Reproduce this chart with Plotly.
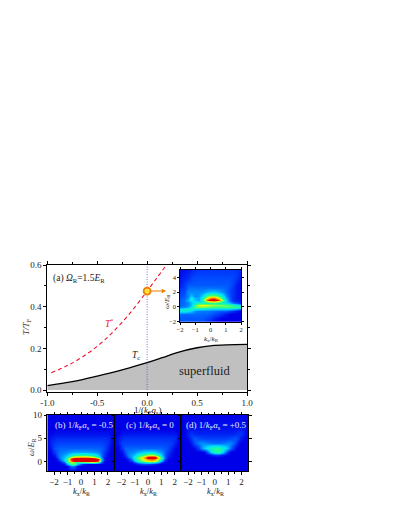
import plotly.graph_objects as go

W, H = 399, 516
OX, OY = -8, -8

tc_x = [-1.0,-0.75,-0.5,-0.25,0.0,0.15,0.3,0.5,0.65,0.8,1.0]
tc_y = [0.021,0.04,0.067,0.097,0.131,0.155,0.18,0.203,0.213,0.217,0.219]
ts_x = [-0.96,-0.81,-0.66,-0.5,-0.36,-0.17,0.0,0.1,0.193]
ts_y = [0.083,0.115,0.155,0.21,0.27,0.37,0.475,0.54,0.6]

inset_k = [-2,-1.75,-1.5,-1.25,-1,-.75,-.5,-.25,0,.25,.5,.75,1,1.25,1.5,1.75,2]
inset_w = [-2,-1.5,-1,-.5,-.25,0,.25,.5,.75,1,1.25,1.5,2,2.5,3,4,5]
inset_z = [
 [.13,.13,.13,.13,.13,.12,.12,.08,.04,.02,0,0,0,0,0,0,0],
 [.14,.14,.14,.14,.14,.14,.14,.12,.10,.06,.03,0,0,0,0,0,0],
 [.16,.16,.16,.16,.16,.16,.15,.15,.14,.12,.10,.07,.03,0,0,0,0],
 [.34,.34,.32,.28,.20,.18,.18,.18,.17,.16,.15,.14,.14,.10,.07,.03,0],
 [.34,.36,.38,.38,.34,.32,.32,.30,.28,.28,.28,.28,.28,.28,.26,.22,.14],
 [.18,.20,.24,.32,.50,.52,.52,.50,.48,.47,.47,.47,.47,.47,.47,.45,.42],
 [.15,.17,.20,.26,.46,.60,.62,.60,.56,.54,.53,.52,.50,.47,.43,.36,.26],
 [.15,.16,.20,.26,.36,.42,.42,.40,.42,.44,.40,.38,.33,.26,.18,.14,.08],
 [.15,.17,.23,.30,.30,.28,.38,.58,.70,.72,.62,.46,.28,.16,.10,.06,.03],
 [.14,.17,.25,.36,.26,.24,.46,.82,1,1,.88,.58,.30,.14,.08,.05,.02],
 [.13,.15,.21,.36,.24,.24,.40,.64,.78,.80,.64,.44,.24,.13,.07,.04,.02],
 [.12,.14,.19,.27,.20,.22,.32,.48,.56,.56,.48,.36,.20,.12,.07,.04,.02],
 [.10,.12,.20,.20,.20,.20,.21,.25,.28,.28,.25,.21,.16,.11,.08,.04,.02],
 [.08,.10,.16,.17,.17,.17,.17,.17,.17,.17,.17,.16,.15,.12,.08,.04,.02],
 [.05,.09,.14,.14,.14,.14,.14,.14,.14,.14,.14,.14,.14,.13,.10,.04,.02],
 [.03,.05,.07,.10,.12,.12,.12,.12,.12,.12,.12,.12,.12,.12,.12,.09,.03],
 [.02,.03,.04,.06,.08,.09,.09,.09,.09,.09,.09,.09,.09,.09,.09,.09,.07],
]

band_k = [-2.5,-2.25,-2,-1.75,-1.5,-1.25,-1,-.75,-.5,-.25,0,.25,.5,.75,1,1.25,1.5,1.75,2,2.25,2.5]
band_w = [-2,-1,-.5,0,.25,.5,.75,1,1.5,2,3,4,5,6,7,10]
b_z = [
 [0,0,0,0,0,0,0,0,0,0,0,0,0,0,0,0,0,0,0,0,0],
 [0,0,0,0,0,0,.01,.18,.16,.02,0,0,0,0,0,0,0,0,0,0,0],
 [0,0,0,0,0,.03,.25,.48,.50,.28,.10,.03,.01,0,0,0,0,0,0,0,0],
 [0,0,0,0,.03,.16,.42,.58,.50,.44,.48,.52,.54,.58,.58,.48,.15,.01,0,0,0],
 [0,0,0,.02,.10,.26,.42,.80,.96,.98,.98,.98,.98,.98,.96,.80,.25,.02,0,0,0],
 [0,0,0,.04,.18,.30,.46,.92,1,1,1,1,1,1,1,.94,.28,.03,0,0,0],
 [0,0,0,.08,.20,.28,.42,.80,.96,.98,.98,.96,.94,.92,.88,.62,.22,.04,0,0,0],
 [0,0,0,.12,.20,.26,.36,.58,.66,.70,.72,.72,.70,.64,.56,.42,.18,.05,0,0,0],
 [0,0,.04,.14,.19,.23,.27,.36,.42,.44,.44,.44,.42,.40,.36,.28,.16,.07,.01,0,0],
 [0,0,.09,.15,.17,.18,.20,.22,.23,.23,.23,.23,.23,.22,.21,.19,.15,.09,.02,0,0],
 [0,.03,.13,.14,.15,.15,.15,.15,.15,.15,.15,.15,.15,.15,.15,.15,.14,.12,.05,0,0],
 [0,.06,.10,.11,.11,.11,.11,.11,.11,.11,.11,.11,.11,.11,.11,.11,.11,.10,.07,.01,0],
 [0,.04,.06,.07,.07,.07,.07,.07,.07,.07,.07,.07,.07,.07,.07,.07,.07,.07,.06,.03,0],
 [0,.01,.03,.03,.03,.03,.03,.03,.03,.03,.03,.03,.03,.03,.03,.03,.03,.03,.03,.01,0],
 [0,0,0,0,0,0,0,0,0,0,0,0,0,0,0,0,0,0,0,0,0],
 [0,0,0,0,0,0,0,0,0,0,0,0,0,0,0,0,0,0,0,0,0],
]
c_z = [
 [0,0,0,0,0,0,0,0,0,0,0,0,0,0,0,0,0,0,0,0,0],
 [0,0,0,0,0,0,0,0,0,0,0,0,0,0,0,0,0,0,0,0,0],
 [0,0,0,0,0,0,.02,.06,.10,.12,.10,.08,.05,.02,0,0,0,0,0,0,0],
 [0,0,0,0,0,.03,.14,.26,.34,.38,.42,.44,.40,.28,.10,.02,0,0,0,0,0],
 [0,0,0,0,.02,.10,.26,.40,.50,.56,.62,.66,.62,.46,.22,.06,0,0,0,0,0],
 [0,0,0,0,.05,.18,.34,.46,.58,.66,.76,.82,.76,.58,.34,.10,.02,0,0,0,0],
 [0,0,0,.01,.09,.22,.36,.50,.62,.74,.92,1,.96,.68,.40,.13,.03,0,0,0,0],
 [0,0,0,.03,.14,.24,.36,.48,.60,.72,.94,1,.98,.66,.36,.14,.05,.01,0,0,0],
 [0,0,0,.07,.18,.23,.28,.36,.44,.50,.56,.58,.54,.42,.27,.14,.07,.01,0,0,0],
 [0,0,.02,.12,.18,.19,.21,.24,.27,.29,.30,.30,.29,.25,.20,.15,.09,.03,0,0,0],
 [0,0,.08,.15,.15,.15,.15,.15,.15,.15,.15,.15,.15,.15,.15,.14,.12,.06,.01,0,0],
 [0,.03,.10,.11,.11,.11,.11,.11,.11,.11,.11,.11,.11,.11,.11,.11,.11,.10,.05,.01,0],
 [0,.03,.07,.08,.08,.08,.08,.08,.08,.08,.08,.08,.08,.08,.08,.08,.08,.08,.07,.03,0],
 [0,0,.03,.04,.04,.04,.04,.04,.04,.04,.04,.04,.04,.04,.04,.04,.04,.04,.04,.01,0],
 [0,0,0,0,0,0,0,0,0,0,0,0,0,0,0,0,0,0,0,0,0],
 [0,0,0,0,0,0,0,0,0,0,0,0,0,0,0,0,0,0,0,0,0],
]
d_z = [
 [0,0,0,0,0,0,0,0,0,0,0,0,0,0,0,0,0,0,0,0,0],
 [0,0,0,0,0,0,0,0,0,0,0,0,0,0,0,0,0,0,0,0,0],
 [0,0,0,0,0,0,0,0,0,0,0,0,0,0,0,0,0,0,0,0,0],
 [0,0,0,0,0,0,0,0,0,0,0,0,0,0,0,0,0,0,0,0,0],
 [0,0,0,0,0,0,0,0,0,0,0,0,0,0,0,0,0,0,0,0,0],
 [0,0,0,0,0,0,0,0,0,0,0,0,0,0,0,0,0,0,0,0,0],
 [0,0,0,0,0,0,0,0,0,0,0,0,0,0,0,0,0,0,0,0,0],
 [0,0,0,0,0,0,0,0,0,0,0,.01,0,0,0,0,0,0,0,0,0],
 [0,0,0,0,0,0,0,0,.01,.04,.08,.09,.06,.02,0,0,0,0,0,0,0],
 [0,0,0,0,0,0,0,.02,.18,.32,.42,.44,.35,.18,.05,0,0,0,0,0,0],
 [0,0,0,0,.02,.10,.20,.28,.35,.40,.44,.44,.38,.32,.24,.14,.03,0,0,0,0],
 [0,0,0,.04,.13,.18,.20,.20,.18,.17,.16,.16,.17,.18,.20,.18,.12,.03,0,0,0],
 [0,0,.03,.10,.14,.12,.11,.10,.10,.10,.10,.10,.10,.10,.11,.12,.14,.10,.03,0,0],
 [0,0,.06,.09,.07,.06,.06,.06,.06,.06,.06,.06,.06,.06,.06,.06,.07,.09,.08,.02,0],
 [0,0,.03,.03,.03,.03,.03,.03,.03,.03,.03,.03,.03,.03,.03,.03,.03,.04,.05,.02,0],
 [0,0,0,0,0,0,0,0,0,0,0,0,0,0,0,0,0,0,0,0,0],
]

scale = [[0,"#0000e8"],[0.12,"#0048ff"],[0.3,"#00e0ff"],[0.45,"#20ff90"],[0.62,"#f0ff00"],[0.8,"#ff6000"],[0.92,"#f00000"],[1,"#e00000"]]
FONT = "Liberation Serif"

def dx(a, b): return [(a + OX) / W, (b + OX) / W]
def dy(top, bot): return [1 - (bot + OY) / H, 1 - (top + OY) / H]

fig = go.Figure()
fig.add_trace(go.Scatter(x=tc_x, y=tc_y, mode="lines", fill="tozeroy", fillcolor="#c0c0c0",
                         line=dict(color="black", width=1.3, shape="spline"), xaxis="x", yaxis="y"))
fig.add_trace(go.Scatter(x=ts_x, y=ts_y, mode="lines",
                         line=dict(color="#f01030", width=1.1, dash="4px,3px", shape="spline"), xaxis="x", yaxis="y"))
fig.add_trace(go.Scatter(x=[0, 0], y=[0, 0.6], mode="lines",
                         line=dict(color="#3040d0", width=0.7, dash="1px,1.5px"), xaxis="x", yaxis="y"))
fig.add_trace(go.Scatter(x=[0], y=[0.475], mode="markers",
                         marker=dict(size=7, color="#ffe040", line=dict(color="#f08000", width=1.8)), xaxis="x", yaxis="y"))
fig.add_trace(go.Heatmap(x=inset_k, y=inset_w, z=inset_z, zmin=0, zmax=1, colorscale=scale, showscale=False, zsmooth="best", xaxis="x2", yaxis="y2"))
for i, z in enumerate([b_z, c_z, d_z]):
    fig.add_trace(go.Heatmap(x=band_k, y=band_w, z=z, zmin=0, zmax=1, colorscale=scale, showscale=False, zsmooth="best",
                             xaxis=f"x{i+3}", yaxis=f"y{i+3}"))

def axis(**kw):
    d = dict(showgrid=False, zeroline=False, showline=True, linecolor="black", ticks="outside", automargin=False,
             tickcolor="black", mirror="ticks", tickfont=dict(family=FONT, size=9, color="#222"))
    d.update(kw)
    return d

layout = dict(
    width=W, height=H, autosize=False, margin=dict(l=0, r=0, t=0, b=0),
    paper_bgcolor="white", plot_bgcolor="white", showlegend=False, font=dict(family=FONT, color="#222"),
    xaxis=axis(domain=dx(47.3, 247), range=[-1, 1], tickvals=[-1, -.5, 0, .5, 1], ticktext=["-1.0", "-0.5", "0.0", "0.5", "1.0"],
               ticklen=3, linewidth=1, minor=dict(tickvals=[-.75, -.25, .25, .75], ticks="outside", ticklen=2, tickcolor="black"), anchor="y"),
    yaxis=axis(domain=dy(265, 391.5), range=[-0.007, 0.6], tickvals=[0, .2, .4, .6], ticktext=["0.0", "0.2", "0.4", "0.6"],
               ticklen=3, linewidth=1, minor=dict(tickvals=[.1, .3, .5], ticks="outside", ticklen=2, tickcolor="black"), anchor="x"),
    xaxis2=axis(domain=dx(180, 241), range=[-2, 2], tickvals=[-2, -1, 0, 1, 2], ticklen=2, linewidth=0.6, anchor="y2",
                tickfont=dict(family=FONT, size=6.5, color="#222")),
    yaxis2=axis(domain=dy(270, 321.7), range=[-2, 5], tickvals=[-2, 0, 2, 4], ticklen=2, linewidth=0.6, anchor="x2",
                tickfont=dict(family=FONT, size=6.5, color="#222")),
)
for i, (a, b) in enumerate([(47.3, 114.7), (114.7, 181.3), (181.3, 248.3)]):
    n = i + 3
    layout[f"xaxis{n}"] = axis(domain=dx(a, b), range=[-2.5, 2.5], tickvals=[-2, -1, 0, 1, 2], ticklen=2.5, linewidth=1, anchor=f"y{n}",
                               minor=dict(tickvals=[-1.5, -.5, .5, 1.5], ticks="outside", ticklen=1.5, tickcolor="black"))
    layout[f"yaxis{n}"] = axis(domain=dy(415, 471), range=[-2, 10], tickvals=[0, 5, 10], ticklen=2.5, linewidth=1, anchor=f"x{n}",
                               showticklabels=(i == 0))

def note(x, y, text, size=9, color="#222", rot=0):
    return dict(xref="paper", yref="paper", x=(x + OX) / W, y=1 - (y + OY) / H, text=text, showarrow=False,
                xanchor="center", yanchor="middle", textangle=rot, font=dict(family=FONT, size=size, color=color))

light = "#e4ecff"
layout["annotations"] = [
    note(79, 278, "(a) <i>Ω</i><sub>R</sub>=1.5<i>E</i><sub>R</sub>", 9.5),
    note(109, 323, "<i>T</i><sup>*</sup>", 9.5, "#f01030"),
    note(136, 355, "<i>T</i><sub>c</sub>", 9.5),
    note(204, 371, "superfluid", 12.5),
    note(26, 327, "<i>T/T</i><sub>F</sub>", 9, rot=-90),
    note(147, 410, "1/(<i>k</i><sub>F</sub><i>a</i><sub>s</sub>)", 9),
    note(211, 339, "<i>k</i><sub>x</sub>/<i>k</i><sub>R</sub>", 7),
    note(167, 302, "<i>ω</i>/<i>E</i><sub>R</sub>", 7, rot=-90),
    note(31, 447, "<i>ω</i>/<i>E</i><sub>R</sub>", 8.5, rot=-90),
    note(81, 491, "<i>k</i><sub>x</sub>/<i>k</i><sub>R</sub>", 8.5),
    note(148, 491, "<i>k</i><sub>x</sub>/<i>k</i><sub>R</sub>", 8.5),
    note(215, 491, "<i>k</i><sub>x</sub>/<i>k</i><sub>R</sub>", 8.5),
    note(84, 425, "(b) 1/<i>k</i><sub>F</sub><i>a</i><sub>s</sub> = -0.5", 9, light),
    note(150, 425, "(c) 1/<i>k</i><sub>F</sub><i>a</i><sub>s</sub> = 0", 9, light),
    note(216, 425, "(d) 1/<i>k</i><sub>F</sub><i>a</i><sub>s</sub> = +0.5", 9, light),
    dict(xref="x", yref="y", axref="x", ayref="y", x=0.19, y=0.475, ax=0.02, ay=0.475, text="", showarrow=True,
         arrowhead=2, arrowsize=0.8, arrowwidth=1.1, arrowcolor="#f08000"),
]
fig.update_layout(**layout)
fig.write_html("out.html")
